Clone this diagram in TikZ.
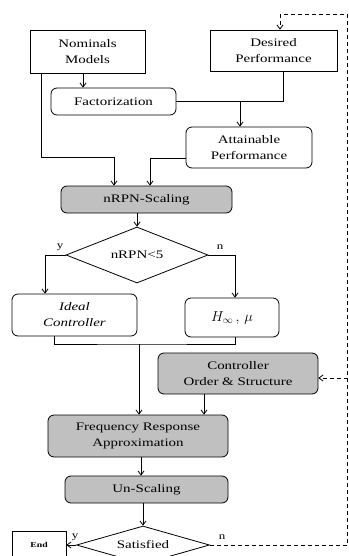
\documentclass[tikz,border=0pt]{standalone}
\usepackage{fontspec}
\setmainfont[FakeStretch=1.3]{Liberation Serif}
\usetikzlibrary{arrows.meta,shapes.geometric,calc}
\definecolor{boxgray}{RGB}{192,192,192}
\begin{document}
\begin{tikzpicture}[x=1pt,y=-1pt,
  every node/.style={font=\fontsize{11.5}{16}\selectfont, align=center, inner sep=0pt},
  plain/.style={draw, line width=0.8pt, minimum width=#1},
  rbox/.style={draw, line width=0.8pt, rounded corners=6pt, minimum width=#1},
  gbox/.style={rbox=#1, fill=boxgray},
  decide/.style={draw, line width=0.8pt, diamond, aspect=2.5},
  lbl/.style={font=\fontsize{10}{12}\selectfont},
  link/.style={line width=0.8pt},
  arr/.style={line width=0.8pt, -{Straight Barb[length=4pt,width=6pt]}},
  dashlink/.style={line width=0.8pt, dash pattern=on 4pt off 3pt}]
\useasboundingbox (0,0) rectangle (348,556);

% blocks
\node[plain=115pt, minimum height=43pt] (nom) at (87.5,51.5) {Nominals\\Models};
\node[plain=127pt, minimum height=41pt] (des) at (273.5,50.5) {Desired\\Performance};
\node[rbox=125pt, minimum height=27pt] (fact) at (113.5,101.5) {Factorization};
\node[rbox=126pt, minimum height=41pt] (att) at (249,147.5) {Attainable\\Performance};
\node[gbox=171pt, minimum height=27pt] (scal) at (146.5,199.5) {nRPN-Scaling};
\node[decide, minimum width=142pt, minimum height=56pt] (dia) at (137,255) {nRPN<5};
\node[rbox=125pt, minimum height=42pt, font=\fontsize{11.5}{16}\selectfont\itshape] (ideal) at (74.5,315) {Ideal\\Controller};
\node[rbox=94pt, minimum height=39pt, font=\fontsize{14}{16}\selectfont] (hinf) at (232,317.5) {$H_\infty\,,\,\mu$};
\node[gbox=160pt, minimum height=41pt] (ctrl) at (238,373.5) {Controller\\Order \& Structure};
\node[gbox=180pt, minimum height=42pt] (freq) at (138,436) {Frequency Response\\Approximation};
\node[gbox=163pt, minimum height=27pt] (unsc) at (146.5,489.5) {Un-Scaling};
\node[decide, minimum width=133pt, minimum height=38pt] (sat) at (143,545) {Satisfied};
\node[plain=54pt, minimum height=28pt, font=\fontsize{7.5}{9}\selectfont\bfseries] (fin) at (39,545) {End};

% branch labels
\node[lbl] (ly1) at (60,247) {y};
\node[lbl] (ln1) at (220,247) {n};
\node[lbl] (ly2) at (75,537) {y};
\node[lbl] (ln2) at (222,537) {n};

% junction points
\coordinate (j1) at (114,157);
\coordinate (j2) at (240,101.5);
\coordinate (j3) at (139,344);
\coordinate (fb1) at (347.5,545);
\coordinate (fb2) at (347.5,14);
\coordinate (fb3) at (280,14);
\coordinate (fb4) at (347.5,378);

% connectors
\draw[arr] ([xshift=-4.5pt]nom.south) -- ([xshift=-4.5pt]nom.south |- fact.north);
\draw[arr] ([xshift=12pt]nom.south west) |- (j1) -- (j1 |- scal.north);
\draw[link] ([xshift=9.5pt]des.south) |- (fact.east);
\draw[arr] (j2) -- (j2 |- att.north);
\draw[arr] ([yshift=-10.5pt]att.west) -| ([xshift=3.5pt]scal.north);
\draw[arr] (dia.north |- scal.south) -- (dia.north);
\draw[arr] (dia.west) -| ([xshift=-29.5pt]ideal.north);
\draw[arr] (dia.east) -| ([xshift=3pt]hinf.north);
\draw[link] ([xshift=-20.5pt]ideal.south) |- (j3) -| ([xshift=3pt]hinf.south);
\draw[arr] (j3) -- (j3 |- freq.north);
\draw[arr] ([xshift=-34pt]ctrl.south) -- ([xshift=-34pt]ctrl.south |- freq.north);
\draw[arr] ([xshift=3pt]freq.south) -- ([xshift=3pt]freq.south |- unsc.north);
\draw[arr] (sat.north |- unsc.south) -- (sat.north);
\draw[arr] (sat.west) -- (fin.east);

% feedback path
\draw[dashlink] (sat.east) -- (fb1) -- (fb2) -- (fb3);
\draw[dashlink, -{Straight Barb[length=4pt,width=6pt]}] (fb3) -- (fb3 |- des.north);
\draw[dashlink, -{Straight Barb[length=4pt,width=6pt]}] (fb4) -- (fb4 -| ctrl.east);
\end{tikzpicture}
\end{document}
